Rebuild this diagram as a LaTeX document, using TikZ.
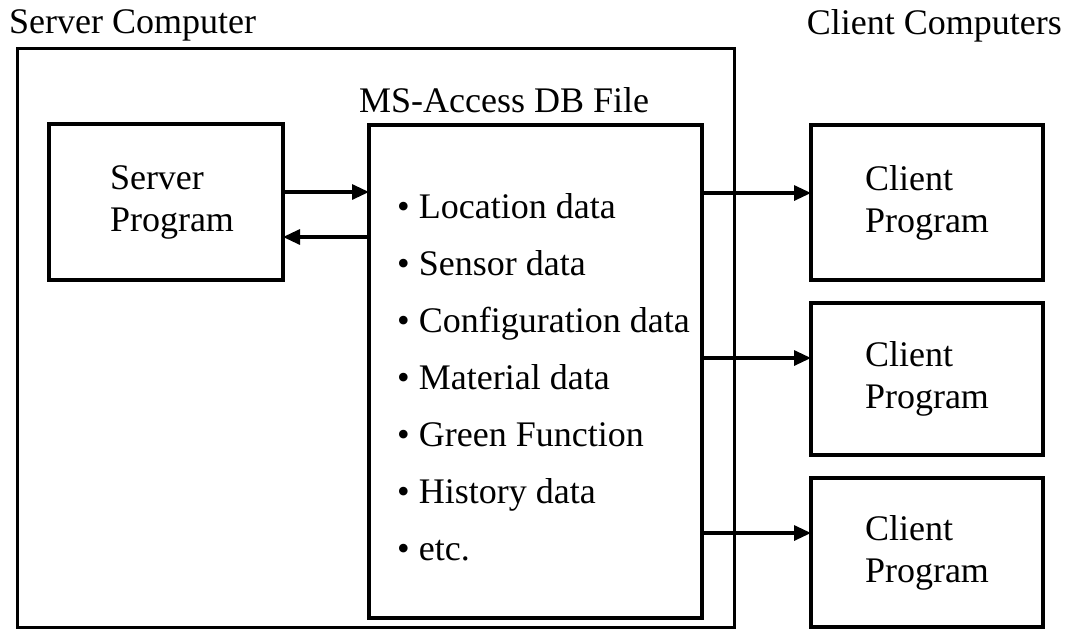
\documentclass[tikz,border=0pt]{standalone}
\usepackage{fontspec}
\setmainfont{Liberation Serif}
\usetikzlibrary{arrows.meta}
\begin{document}
\begin{tikzpicture}[x=1pt,y=-1pt,
  frame/.style={draw, line width=3pt, inner sep=0pt, outer sep=0pt, anchor=north west},
  box/.style={draw, line width=3.4pt, inner sep=0pt, outer sep=0pt, anchor=north west,
              align=left, font=\fontsize{36}{42}\selectfont},
  caption/.style={inner sep=0pt, font=\fontsize{36}{42}\selectfont},
  item/.style={inner sep=0pt, anchor=base west, font=\fontsize{36}{42}\selectfont},
  flow/.style={line width=3.2pt, -{Triangle[length=17pt,width=15pt]}}
]
\useasboundingbox (0,0) rectangle (1068,630);

% server machine and its contents
\node[frame, minimum width=717pt, minimum height=579pt] (server) at (17,48) {};
\node[caption, anchor=base west] (servertitle) at (9,33) {Server Computer};
\node[box, minimum width=234pt, minimum height=156pt] (srv) at (49,124)
  {\hspace*{12pt}Server\\\hspace*{12pt}Program};
\node[box, minimum width=333pt, minimum height=493pt] (db) at (369,125) {};
\node[caption, anchor=base west] (dbtitle) at (359,112) {MS-Access DB File};

% contents of the database file
\foreach \t [count=\i] in {Location data, Sensor data, Configuration data,
    Material data, Green Function, History data, etc.}
  \node[item] (item\i) at (397, {218+57*(\i-1)}) {• \t};

% client machines
\node[caption, anchor=base east] (clienttitle) at (1062,34) {Client Computers};
\node[box, minimum width=232pt, minimum height=155pt] (c1) at (811,125) {Client\\Program};
\node[box, minimum width=232pt, minimum height=152pt] (c2) at (811,303) {Client\\Program};
\node[box, minimum width=232pt, minimum height=149pt] (c3) at (811,478) {Client\\Program};

% heights of the connectors
\coordinate (ya) at (0,192);
\coordinate (yb) at (0,237);
\coordinate (y1) at (0,193);
\coordinate (y2) at (0,358);
\coordinate (y3) at (0,533);

\draw[flow] (srv.east |- ya) -- (db.west |- ya);
\draw[flow] (db.west |- yb) -- (srv.east |- yb);
\draw[flow] (db.east |- y1) -- (c1.west |- y1);
\draw[flow] (db.east |- y2) -- (c2.west |- y2);
\draw[flow] (db.east |- y3) -- (c3.west |- y3);
\end{tikzpicture}
\end{document}
